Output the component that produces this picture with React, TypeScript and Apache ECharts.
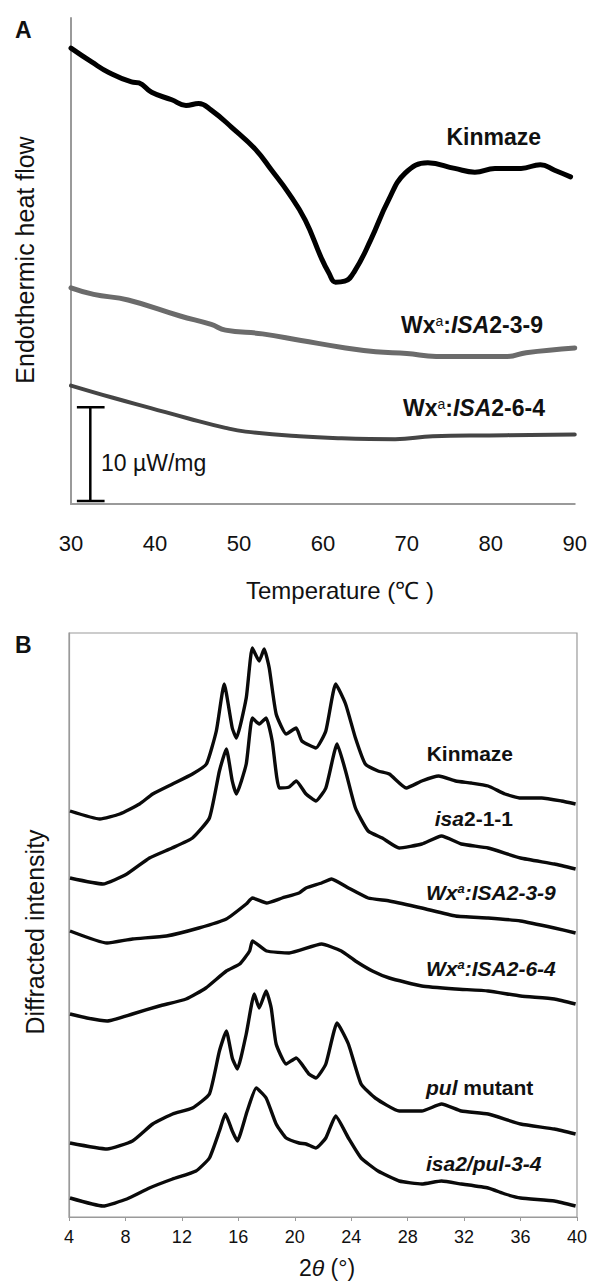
import React, { useEffect, useRef } from "react";
import * as echarts from "echarts";

// ---------- Panel A (DSC) ----------
const tempTicksA = [30, 40, 50, 60, 70, 80, 90];
const tempKinmaze = [30, 32.5, 34.5, 37.2, 38.1, 39.6, 42.0, 43.7, 45.2, 46.7, 49.1, 52.0, 53.9, 55.9, 57.9, 59.8, 60.7, 61.5, 62.6, 63.8, 65.7, 67.8, 69.8, 72.5, 75.7, 78.1, 80.5, 83.6, 85.9, 87.6, 89.5];
const heatKinmaze = [48.5, 47.0, 45.9, 44.9, 44.8, 43.8, 43.0, 42.4, 42.6, 41.9, 40.1, 37.7, 35.5, 33.1, 30.2, 26.2, 24.6, 23.6, 23.7, 24.8, 28.1, 32.3, 35.2, 36.3, 35.7, 35.3, 35.7, 35.7, 36.1, 35.5, 34.8];
const tempWx39 = [30, 32.7, 36.8, 43.0, 46.7, 48.4, 52.8, 57.4, 62.7, 66.3, 70.0, 73.5, 82.0, 84.2, 90];
const heatWx39 = [23.0, 22.3, 21.7, 20.0, 19.1, 18.5, 18.1, 17.4, 16.6, 16.2, 16.0, 15.7, 15.7, 16.1, 16.6];
const tempWx64 = [30, 35.0, 39.5, 44.0, 48.4, 50.8, 57.2, 61.9, 68.6, 73.1, 79.8, 90];
const heatWx64 = [12.6, 11.3, 10.2, 9.1, 8.1, 7.7, 7.2, 7.0, 6.9, 7.2, 7.3, 7.4];
const scaleBarT = [30.7, 34.0, 32.3, 32.3, 30.7, 34.0];
const scaleBarV = [10.3, 10.3, 10.3, 0.32, 0.32, 0.32];

// ---------- Panel B (XRD) ----------
const thetaTicksB = [4, 8, 12, 16, 20, 24, 28, 32, 36, 40];
const thetaKinmaze = [4.07, 6.19, 7.6, 9.0, 9.93, 11.34, 12.75, 13.74, 14.44, 15.0, 15.57, 15.86, 16.56, 16.99, 17.48, 17.83, 18.19, 18.68, 19.39, 20.1, 20.5, 21.5, 22.2, 22.9, 23.6, 24.3, 25.0, 25.9, 26.7, 27.9, 29.0, 30.2, 31.4, 32.5, 33.7, 34.9, 36.0, 37.5, 38.9, 39.9];
const intKinmaze = [40.6, 39.8, 40.3, 41.3, 42.3, 43.3, 44.3, 45.3, 48.6, 53.3, 48.9, 47.9, 51.9, 56.9, 55.6, 56.8, 54.9, 50.3, 48.3, 48.9, 47.6, 46.9, 48.6, 53.3, 51.3, 47.9, 45.3, 44.6, 44.3, 42.9, 43.6, 44.1, 43.6, 43.4, 43.1, 42.3, 41.9, 41.9, 41.6, 41.3];
const thetaIsa211 = [4.07, 6.4, 8.1, 9.7, 11.3, 12.75, 13.95, 14.66, 15.15, 15.57, 15.86, 16.56, 16.99, 17.48, 17.97, 18.4, 18.9, 19.6, 20.1, 20.8, 21.5, 22.2, 23.0, 23.6, 24.3, 25.2, 26.2, 27.4, 29.0, 30.4, 31.8, 33.7, 36.0, 38.4, 39.9];
const intIsa211 = [33.9, 33.3, 34.3, 35.9, 36.9, 37.9, 39.9, 44.6, 46.8, 43.6, 42.3, 45.3, 49.9, 49.3, 49.9, 47.6, 42.9, 43.0, 43.6, 42.3, 41.6, 42.9, 47.3, 44.6, 40.9, 38.6, 37.9, 36.9, 37.3, 38.1, 37.3, 36.9, 35.9, 35.3, 34.8];
const thetaWx39 = [4.07, 6.7, 8.5, 10.9, 13.2, 15.15, 16.56, 17.0, 18.0, 19.1, 20.3, 20.8, 21.9, 22.6, 23.8, 25.2, 26.7, 29.0, 31.4, 33.7, 36.0, 38.4, 39.9];
const intWx39 = [28.6, 27.4, 27.8, 28.1, 28.9, 29.8, 31.3, 31.9, 31.4, 31.9, 32.4, 32.9, 33.4, 33.8, 32.9, 31.9, 31.6, 30.9, 30.1, 29.9, 29.6, 28.9, 28.4];
const thetaWx64 = [4.07, 5.27, 6.7, 8.5, 10.4, 12.3, 13.7, 15.15, 16.1, 16.8, 17.0, 18.0, 19.6, 21.9, 23.3, 24.3, 25.5, 26.7, 29.0, 31.4, 33.7, 36.0, 38.4, 39.9];
const intWx64 = [20.3, 19.9, 19.6, 20.3, 21.1, 21.8, 22.9, 24.6, 25.3, 26.6, 27.6, 26.6, 26.4, 27.3, 26.6, 25.6, 24.6, 23.9, 23.1, 22.8, 22.6, 22.1, 21.8, 21.3];
const thetaPul = [4.07, 6.7, 8.5, 9.93, 11.34, 12.75, 13.95, 14.66, 15.15, 15.57, 15.93, 16.56, 17.13, 17.48, 17.97, 18.33, 18.68, 19.39, 20.1, 21.0, 21.5, 22.2, 23.0, 23.8, 24.7, 25.7, 27.4, 29.0, 30.4, 31.8, 33.7, 36.0, 38.4, 39.9];
const intPul = [7.4, 6.8, 7.6, 9.3, 10.3, 10.9, 12.3, 16.6, 18.6, 15.9, 14.8, 18.3, 22.3, 20.9, 22.6, 20.9, 17.3, 15.3, 15.9, 14.3, 13.9, 15.3, 19.4, 17.3, 13.3, 11.9, 10.6, 10.6, 11.3, 10.6, 10.3, 9.3, 8.8, 8.3];
const thetaIsaPul = [4.07, 6.4, 8.1, 9.7, 11.34, 13.0, 13.95, 14.66, 15.08, 15.57, 15.93, 16.63, 17.27, 17.97, 18.68, 19.39, 20.3, 20.8, 21.5, 22.2, 22.9, 23.8, 24.7, 25.9, 27.4, 29.0, 30.4, 31.8, 33.7, 34.9, 36.0, 38.4, 39.9];
const intIsaPul = [1.9, 1.1, 1.8, 2.9, 3.8, 4.6, 5.9, 8.6, 10.3, 8.6, 7.6, 10.6, 12.9, 11.9, 9.3, 7.9, 7.4, 7.3, 6.9, 7.9, 10.1, 7.9, 5.9, 4.6, 3.6, 3.3, 3.6, 3.3, 2.9, 2.3, 1.9, 1.6, 1.1];

const FONT = '"Liberation Sans", Arial, Helvetica, sans-serif';
const INK = "#111";

function zip(xs: number[], ys: number[]) {
  return xs.map((x, i) => [x, ys[i]]);
}

function txt(x: number, y: number, text: string, opts: any = {}) {
  const align = opts.align || "left";
  return {
    type: "text",
    x,
    y,
    rotation: opts.rotation || 0,
    silent: true,
    style: {
      text,
      fill: INK,
      font: `${opts.style || "normal"} ${opts.weight || "normal"} ${opts.size || 20}px ${FONT}`,
      fontFamily: FONT,
      fontSize: opts.size || 20,
      fontWeight: opts.weight || "normal",
      fontStyle: opts.style || "normal",
      align,
      textAlign: align,
      verticalAlign: "middle",
      textVerticalAlign: "middle",
      rich: opts.rich,
    },
  };
}

function richSet(size: number, italicAll: boolean) {
  const base = { fontFamily: FONT, fontSize: size, fill: INK, color: INK };
  return {
    b: { ...base, fontWeight: "bold", fontStyle: italicAll ? "italic" : "normal" },
    bi: { ...base, fontWeight: "bold", fontStyle: "italic" },
    sup: {
      ...base,
      fontSize: Math.round(size * 0.6),
      fontWeight: italicAll ? "bold" : "normal",
      fontStyle: italicAll ? "italic" : "normal",
      verticalAlign: "top",
    },
    n: { ...base, fontWeight: "normal", fontStyle: "normal" },
    i: { ...base, fontWeight: "normal", fontStyle: "italic" },
  };
}

export default function App() {
  const ref = useRef<HTMLDivElement>(null);
  useEffect(() => {
    document.body.style.margin = "0";
    const chart = echarts.init(ref.current as HTMLDivElement, null, { renderer: "svg" });
    const lineA = (name: string, xs: number[], ys: number[], color: string, width: number) => ({
      type: "line",
      name,
      xAxisIndex: 0,
      yAxisIndex: 0,
      data: zip(xs, ys),
      symbol: "none",
      smooth: 0.45,
      lineStyle: { color, width, cap: "round", join: "round" },
      silent: true,
    });
    const lineB = (name: string, xs: number[], ys: number[]) => ({
      type: "line",
      name,
      xAxisIndex: 1,
      yAxisIndex: 1,
      data: zip(xs, ys),
      symbol: "none",
      smooth: 0.15,
      lineStyle: { color: "#0a0a0a", width: 3.4, join: "round" },
      silent: true,
    });
    const rA = richSet(23, false);
    const rB = richSet(21, true);
    const rBn = richSet(21, false);
    chart.setOption({
      animation: false,
      backgroundColor: "#fff",
      grid: [
        { left: 71, top: 18, width: 506, height: 486, containLabel: false },
        { left: 69, top: 633, width: 511, height: 584, show: true, borderColor: "#9a9a9a", borderWidth: 1.2, backgroundColor: "transparent", containLabel: false },
      ],
      xAxis: [
        {
          type: "value",
          gridIndex: 0,
          min: tempTicksA[0],
          max: tempTicksA[tempTicksA.length - 1],
          interval: 10,
          axisLine: { show: true, onZero: false, lineStyle: { color: "#9a9a9a", width: 2 } },
          axisTick: { show: false },
          splitLine: { show: false },
          axisLabel: { color: INK, fontSize: 22, fontFamily: FONT, margin: 28 },
        },
        {
          type: "value",
          gridIndex: 1,
          min: thetaTicksB[0],
          max: thetaTicksB[thetaTicksB.length - 1],
          interval: 4,
          axisLine: { show: true, onZero: false, lineStyle: { color: "#9a9a9a", width: 1.2 } },
          axisTick: { show: true, inside: false, length: 4, lineStyle: { color: "#9a9a9a" } },
          splitLine: { show: false },
          axisLabel: { color: INK, fontSize: 18, fontFamily: FONT, margin: 11 },
        },
      ],
      yAxis: [
        {
          type: "value",
          gridIndex: 0,
          min: 0,
          max: 51.7,
          axisLine: { show: true, onZero: false, lineStyle: { color: "#9a9a9a", width: 2 } },
          axisTick: { show: false },
          axisLabel: { show: false },
          splitLine: { show: false },
        },
        {
          type: "value",
          gridIndex: 1,
          min: 0,
          max: 58.4,
          axisLine: { show: true, onZero: false, lineStyle: { color: "#9a9a9a", width: 1.2 } },
          axisTick: { show: false },
          axisLabel: { show: false },
          splitLine: { show: false },
        },
      ],
      series: [
        lineA("Kinmaze", tempKinmaze, heatKinmaze, "#000", 5),
        lineA("Wxa:ISA2-3-9", tempWx39, heatWx39, "#6b6b6b", 5),
        lineA("Wxa:ISA2-6-4", tempWx64, heatWx64, "#454545", 4),
        {
          type: "line",
          name: "scale",
          xAxisIndex: 0,
          yAxisIndex: 0,
          data: zip(scaleBarT, scaleBarV),
          symbol: "none",
          lineStyle: { color: "#000", width: 2.5 },
          silent: true,
        },
        lineB("Kinmaze", thetaKinmaze, intKinmaze),
        lineB("isa2-1-1", thetaIsa211, intIsa211),
        lineB("Wxa:ISA2-3-9", thetaWx39, intWx39),
        lineB("Wxa:ISA2-6-4", thetaWx64, intWx64),
        lineB("pul mutant", thetaPul, intPul),
        lineB("isa2/pul-3-4", thetaIsaPul, intIsaPul),
      ],
      graphic: [
        txt(15, 30, "A", { size: 23, weight: "bold" }),
        txt(25, 260, "Endothermic heat flow", { size: 25, rotation: Math.PI / 2, align: "center" }),
        txt(541, 137, "Kinmaze", { size: 23, weight: "bold", align: "right" }),
        txt(543, 325, "{b|Wx}{sup|a}{b|:}{bi|ISA}{b|2-3-9}", { size: 23, weight: "bold", align: "right", rich: rA }),
        txt(545, 408, "{b|Wx}{sup|a}{b|:}{bi|ISA}{b|2-6-4}", { size: 23, weight: "bold", align: "right", rich: rA }),
        txt(101, 463, "10 µW/mg", { size: 23 }),
        txt(340, 590, "Temperature (℃ )", { size: 24, align: "center" }),

        txt(15, 645, "B", { size: 23, weight: "bold" }),
        txt(35, 932, "Diffracted intensity", { size: 25, rotation: Math.PI / 2, align: "center" }),
        txt(513, 753, "Kinmaze", { size: 21, weight: "bold", align: "right" }),
        txt(513, 818, "{bi|isa}{b|2-1-1}", { size: 21, weight: "bold", align: "right", rich: rBn }),
        txt(426, 892, "{b|Wx}{sup|a}{b|:ISA2-3-9}", { size: 21, weight: "bold", rich: rB }),
        txt(426, 968, "{b|Wx}{sup|a}{b|:ISA2-6-4}", { size: 21, weight: "bold", rich: rB }),
        txt(426, 1087, "{bi|pul}{b| mutant}", { size: 21, weight: "bold", rich: rBn }),
        txt(426, 1163, "{bi|isa2/pul-3-4}", { size: 21, weight: "bold", rich: rBn }),
        txt(327, 1268, "{n|2}{i|θ}{n| (°)}", { size: 23, align: "center", rich: richSet(23, false) }),
      ],
    });
    return () => chart.dispose();
  }, []);
  return <div ref={ref} style={{ width: 590, height: 1281 }} />;
}
